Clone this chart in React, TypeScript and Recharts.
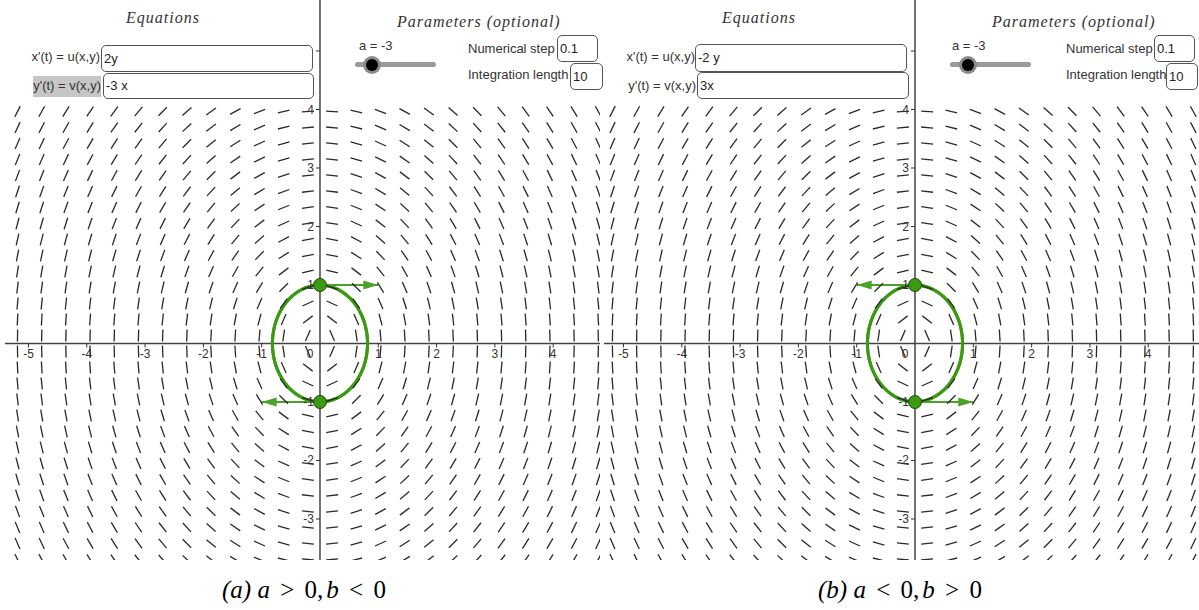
import React from "react";
import { ComposedChart, Line, Scatter, XAxis, YAxis } from "recharts";

// sample positions of the slope field (axis units)
const fieldCols = [
  -5.188, -4.773, -4.358, -3.943, -3.528, -3.113, -2.698, -2.283, -1.868, -1.453, -1.038, -0.623, -0.208,
  0.208, 0.623, 1.038, 1.453, 1.868, 2.283, 2.698, 3.113, 3.528, 3.943, 4.358, 4.773,
];
const fieldRows = [
  3.966, 3.692, 3.419, 3.145, 2.872, 2.598, 2.325, 2.051, 1.778, 1.504, 1.231, 0.957, 0.684, 0.41, 0.137,
  -0.137, -0.41, -0.684, -0.957, -1.231, -1.504, -1.778, -2.051, -2.325, -2.598, -2.872, -3.145, -3.419, -3.692,
];

const xTicks = [-5, -4, -3, -2, -1, 1, 2, 3, 4];
const yTicks = [-3, -2, -1, 1, 2, 3, 4, 5];
const yTickLabels = [-3, -2, -1, 1, 2, 3, 4];

// linear systems: x' = u[0]*x + u[1]*y, y' = v[0]*x + v[1]*y
const systemA = { u: [0, 2], v: [-3, 0], uText: "2y", vText: "-3 x" };
const systemB = { u: [0, -2], v: [3, 0], uText: "-2 y", vText: "3x" };

const startPoints = [
  [0, 1],
  [0, -1],
];
const numericalStep = 0.1;
const integrationLength = 10;
const vectorScale = 0.5;

const GREEN = "#3c9a12";
const ARROW = "#4ba22a";
const INK = "#333";

type Sys = { u: number[]; v: number[]; uText: string; vText: string };
type Pt = { x: number; y: number };

const field = (s: Sys, x: number, y: number) => [s.u[0] * x + s.u[1] * y, s.v[0] * x + s.v[1] * y];

function trajectory(s: Sys, start: number[], h: number, T: number): Pt[] {
  let [x, y] = start;
  const pts: Pt[] = [{ x, y }];
  const n = Math.round(T / h);
  for (let i = 0; i < n; i++) {
    const [k1x, k1y] = field(s, x, y);
    const [k2x, k2y] = field(s, x + (h / 2) * k1x, y + (h / 2) * k1y);
    const [k3x, k3y] = field(s, x + (h / 2) * k2x, y + (h / 2) * k2y);
    const [k4x, k4y] = field(s, x + h * k3x, y + h * k3y);
    x += (h / 6) * (k1x + 2 * k2x + 2 * k3x + k4x);
    y += (h / 6) * (k1y + 2 * k2y + 2 * k3y + k4y);
    pts.push({ x, y });
  }
  return pts;
}

const grid: Pt[] = fieldRows.flatMap((y) => fieldCols.map((x) => ({ x, y })));

function PhasePanel({ sys, xDomain, yDomain }: { sys: Sys; xDomain: number[]; yDomain: number[] }) {
  const segment = (p: any) => {
    const [u, v] = field(sys, p.payload.x, p.payload.y);
    const len = Math.hypot(u, v) || 1;
    const dx = (u / len) * 6;
    const dy = -(v / len) * 6;
    return <line x1={p.cx - dx} y1={p.cy - dy} x2={p.cx + dx} y2={p.cy + dy} stroke="#2a2a2a" strokeWidth={1.3} />;
  };
  const xTick = (p: any) => (
    <g>
      <line x1={p.cx} y1={p.cy} x2={p.cx} y2={p.cy + 4} stroke={INK} strokeWidth={1} />
      <text x={p.cx} y={p.cy + 15} textAnchor="middle" fontSize={12} fill={INK} fontFamily="Liberation Sans, Arial">
        {p.payload.x}
      </text>
    </g>
  );
  const yTick = (p: any) => (
    <g>
      <line x1={p.cx - 4} y1={p.cy} x2={p.cx} y2={p.cy} stroke={INK} strokeWidth={1} />
      {yTickLabels.includes(p.payload.y) && (
        <text x={p.cx - 6} y={p.cy + 4} textAnchor="end" fontSize={12} fill={INK} fontFamily="Liberation Sans, Arial">
          {p.payload.y}
        </text>
      )}
    </g>
  );
  const origin = (p: any) => (
    <text x={p.cx - 10} y={p.cy + 15} textAnchor="middle" fontSize={12} fill={INK} fontFamily="Liberation Sans, Arial">
      0
    </text>
  );
  const dotShape = (p: any) => <circle cx={p.cx} cy={p.cy} r={6.5} fill={GREEN} stroke="#1d4a08" strokeWidth={1} />;

  const arrows = startPoints.map(([x0, y0]) => {
    const [u, v] = field(sys, x0, y0);
    return { base: { x: x0, y: y0 }, tip: { x: x0 + u * vectorScale, y: y0 + v * vectorScale, u, v } };
  });
  const head = (p: any) => {
    const { u, v } = p.payload;
    const len = Math.hypot(u, v) || 1;
    const ux = u / len;
    const uy = -v / len;
    const bx = p.cx - ux * 15;
    const by = p.cy - uy * 15;
    const pts = `${p.cx},${p.cy} ${bx - uy * 4.5},${by + ux * 4.5} ${bx + uy * 4.5},${by - ux * 4.5}`;
    return <polygon points={pts} fill={ARROW} />;
  };

  return (
    <ComposedChart width={595} height={560} margin={{ top: 0, right: 0, bottom: 0, left: 0 }}>
      <XAxis type="number" dataKey="x" domain={xDomain} allowDataOverflow hide />
      <YAxis type="number" dataKey="y" domain={yDomain} allowDataOverflow hide />
      <Scatter data={grid} shape={segment} isAnimationActive={false} />
      <Line
        data={[{ x: xDomain[0], y: 0 }, { x: xDomain[1], y: 0 }]}
        dataKey="y"
        stroke="#444"
        strokeWidth={1.5}
        dot={false}
        activeDot={false}
        isAnimationActive={false}
      />
      <Line
        data={[{ x: 0, y: yDomain[0] }, { x: 0, y: yDomain[1] }]}
        dataKey="y"
        stroke="#444"
        strokeWidth={1.5}
        dot={false}
        activeDot={false}
        isAnimationActive={false}
      />
      <Scatter data={xTicks.map((x) => ({ x, y: 0 }))} shape={xTick} isAnimationActive={false} />
      <Scatter data={yTicks.map((y) => ({ x: 0, y }))} shape={yTick} isAnimationActive={false} />
      <Scatter data={[{ x: 0, y: 0 }]} shape={origin} isAnimationActive={false} />
      {startPoints.map((s, i) => (
        <Line
          key={`traj${i}`}
          data={trajectory(sys, s, numericalStep, integrationLength)}
          dataKey="y"
          type="natural"
          stroke={GREEN}
          strokeWidth={3}
          dot={false}
          activeDot={false}
          isAnimationActive={false}
        />
      ))}
      {arrows.map((a, i) => (
        <Line
          key={`shaft${i}`}
          data={[a.base, a.tip]}
          dataKey="y"
          stroke={ARROW}
          strokeWidth={2}
          dot={false}
          activeDot={false}
          isAnimationActive={false}
        />
      ))}
      <Scatter data={arrows.map((a) => a.tip)} shape={head} isAnimationActive={false} />
      <Scatter data={startPoints.map(([x, y]) => ({ x, y }))} shape={dotShape} isAnimationActive={false} />
    </ComposedChart>
  );
}

const sans = "'Liberation Sans', Arial, sans-serif";
const serif = "'Liberation Serif', 'Times New Roman', serif";

const Label = ({ left, top, width, align = "left", children }: any) => (
  <div
    style={{
      position: "absolute",
      left,
      top,
      width,
      textAlign: align,
      fontFamily: sans,
      fontSize: 13,
      lineHeight: "16px",
      color: INK,
      whiteSpace: "nowrap",
    }}
  >
    {children}
  </div>
);

const Box = ({ left, top, width, height, children }: any) => (
  <div
    style={{
      position: "absolute",
      left,
      top,
      width,
      height,
      boxSizing: "border-box",
      border: "1px solid #555",
      borderRadius: 5,
      background: "#fff",
      fontFamily: sans,
      fontSize: 13,
      lineHeight: `${height - 2}px`,
      paddingLeft: 2,
      color: "#222",
    }}
  >
    {children}
  </div>
);

const Heading = ({ left, top, children }: any) => (
  <div
    style={{
      position: "absolute",
      left,
      top,
      fontFamily: serif,
      fontStyle: "italic",
      fontSize: 16,
      letterSpacing: 1,
      lineHeight: "18px",
      color: INK,
      whiteSpace: "nowrap",
    }}
  >
    {children}
  </div>
);

const Slider = ({ left, knob }: { left: number; knob: number }) => (
  <>
    <div style={{ position: "absolute", left, top: 62, width: 81, height: 5, borderRadius: 3, background: "#9a9a9a" }} />
    <div style={{ position: "absolute", left: knob - 9, top: 56, width: 18, height: 18, borderRadius: 9, background: "#8a8a8a" }} />
    <div style={{ position: "absolute", left: knob - 6, top: 59, width: 12, height: 12, borderRadius: 6, background: "#000" }} />
  </>
);

const Rel = ({ children }: any) => <span style={{ margin: "0 4px" }}>{children}</span>;

const Caption = ({ left, tag, rel1, rel2 }: any) => (
  <div
    style={{
      position: "absolute",
      left,
      top: 575,
      fontFamily: serif,
      fontSize: 25,
      lineHeight: "30px",
      color: "#000",
      whiteSpace: "nowrap",
    }}
  >
    <i>({tag})</i> <i>a</i> <Rel>{rel1}</Rel> 0,<i style={{ marginLeft: 3 }}>b</i> <Rel>{rel2}</Rel> 0
  </div>
);

export default function App() {
  return (
    <div style={{ position: "fixed", left: 0, top: 0, width: 1199, height: 610, background: "#fff", overflow: "hidden" }}>
      <div style={{ position: "absolute", left: 5, top: 0 }}>
        <PhasePanel sys={systemA} xDomain={[-5.403, 4.803]} yDomain={[-3.701, 5.872]} />
      </div>
      <div style={{ position: "absolute", left: 604, top: 0 }}>
        <PhasePanel sys={systemB} xDomain={[-5.334, 4.871]} yDomain={[-3.701, 5.872]} />
      </div>

      {/* left panel controls */}
      <Heading left={126} top={9}>Equations</Heading>
      <Label left={20} top={49} width={80} align="right">x'(t) = u(x,y)</Label>
      <Box left={101} top={45} width={212} height={27}>{systemA.uText}</Box>
      <div style={{ position: "absolute", left: 33, top: 76, width: 68, height: 21, background: "#c6c6c6" }} />
      <Label left={21} top={78} width={80} align="right">y'(t) = v(x,y)</Label>
      <Box left={103} top={73} width={211} height={26}>{systemA.vText}</Box>

      <Heading left={397} top={13}>Parameters (optional)</Heading>
      <Label left={359} top={38}>a = -3</Label>
      <Slider left={355} knob={372} />
      <Label left={468} top={41}>Numerical step</Label>
      <Box left={557} top={35} width={41} height={27}>{numericalStep}</Box>
      <Label left={468} top={67}>Integration length</Label>
      <Box left={570} top={63} width={33} height={27}>{integrationLength}</Box>

      {/* right panel controls */}
      <Heading left={722} top={9}>Equations</Heading>
      <Label left={614} top={49} width={81} align="right">x'(t) = u(x,y)</Label>
      <Box left={695} top={44} width={212} height={28}>{systemB.uText}</Box>
      <Label left={615} top={78} width={81} align="right">y'(t) = v(x,y)</Label>
      <Box left={697} top={72} width={212} height={27}>{systemB.vText}</Box>

      <Heading left={992} top={13}>Parameters (optional)</Heading>
      <Label left={952} top={38}>a = -3</Label>
      <Slider left={950} knob={968} />
      <Label left={1066} top={41}>Numerical step</Label>
      <Box left={1154} top={35} width={41} height={27}>{numericalStep}</Box>
      <Label left={1066} top={67}>Integration length</Label>
      <Box left={1166} top={63} width={32} height={27}>{integrationLength}</Box>

      <Caption left={222} tag="a" rel1=">" rel2="<" />
      <Caption left={818} tag="b" rel1="<" rel2=">" />
    </div>
  );
}
